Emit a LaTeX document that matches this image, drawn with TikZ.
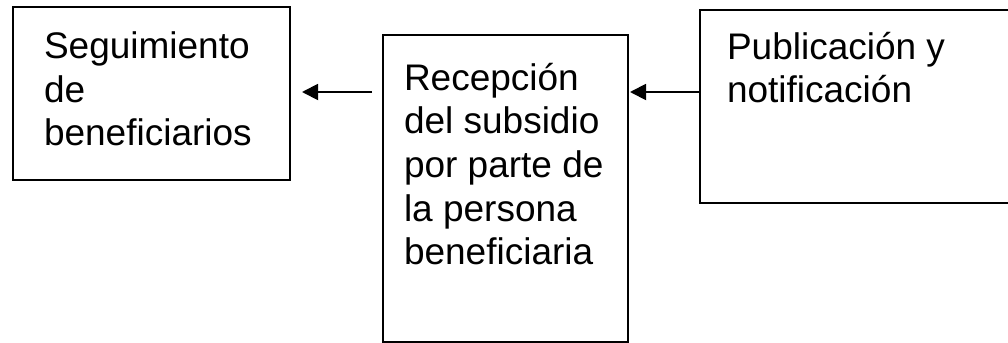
\documentclass[tikz,border=0pt]{standalone}
\usepackage{fontspec}
\setmainfont{Liberation Sans}
\usetikzlibrary{arrows.meta}
\tikzset{
  box/.style={draw=black, line width=1.3pt, rectangle, inner sep=0pt, outer sep=0pt},
  txt/.style={anchor=base west, inner sep=0pt, outer sep=0pt, font=\fontsize{27.75pt}{32.8pt}\selectfont},
  arr/.style={line width=1.4pt, -{Triangle[length=12pt,width=12pt]}}
}
\newcommand{\boxtext}[1]{\parbox[t]{200pt}{\raggedright #1}}
\begin{document}
\begin{tikzpicture}[x=0.75pt,y=-0.75pt]
\useasboundingbox (0,0) rectangle (1008,343);
\node[box, minimum width=207.75pt, minimum height=129.75pt] (b1) at (151.5,93.5) {};
\node[box, minimum width=183.75pt, minimum height=230.25pt] (b2) at (505.5,188.5) {};
\node[box, minimum width=234pt, minimum height=144.75pt] (b3) at (856,106.5) {};
\node[txt] (t1) at (44,58.5) {\boxtext{Seguimiento\\de\\beneficiarios}};
\node[txt] (t2) at (404,90) {\boxtext{Recepción\\del subsidio\\por parte de\\la persona\\beneficiaria}};
\node[txt] (t3) at (727,59) {\boxtext{Publicación y\\notificación}};
\coordinate (ya) at (0,92);
\draw[arr, shorten <=8.25pt, shorten >=9pt] (b2.west |- ya) -- (b1.east |- ya);
\draw[arr, shorten >=1.5pt] (b3.west |- ya) -- (b2.east |- ya);
\end{tikzpicture}
\end{document}
